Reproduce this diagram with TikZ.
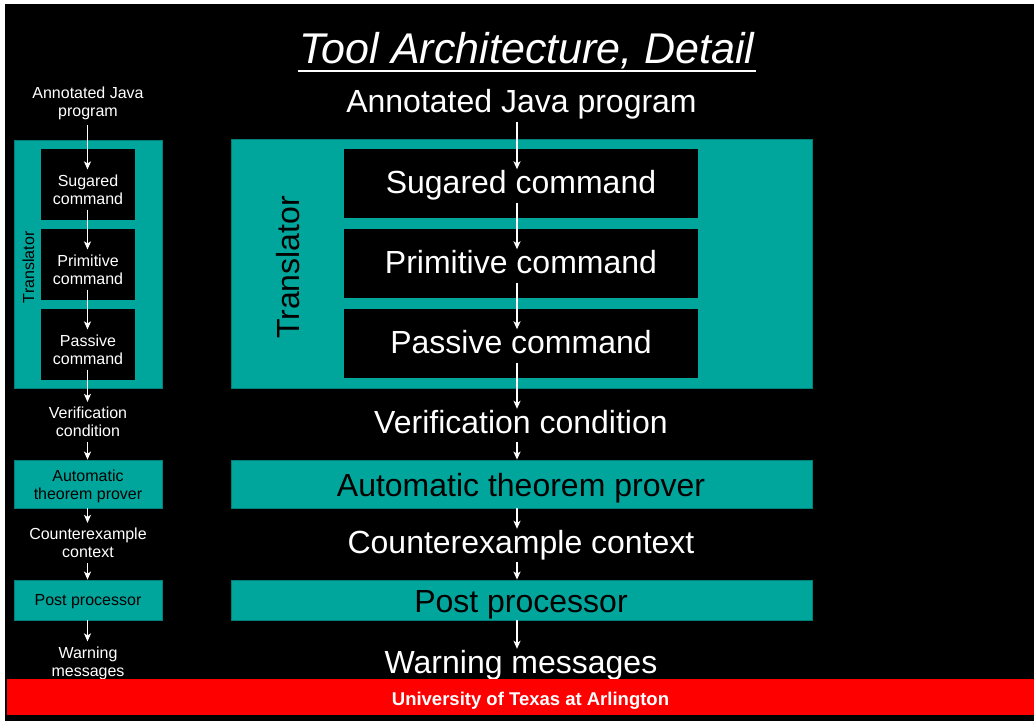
\documentclass[tikz,border=0pt]{standalone}
\usepackage{fontspec}
\setmainfont{Liberation Sans}
\usetikzlibrary{arrows.meta}
\definecolor{Teal}{RGB}{0,166,156}
\definecolor{TealEdge}{RGB}{0,128,120}
\definecolor{Banner}{RGB}{255,0,0}

\tikzset{
  stage/.style={fill=Teal, draw=TealEdge, line width=0.8pt, inner sep=0pt},
  slot/.style={fill=black, inner sep=0pt},
  bigtxt/.style={text=white, font=\fontsize{32}{36}\selectfont, anchor=base,
    text height=23pt, text depth=8pt, inner xsep=0pt, inner ysep=1pt},
  smalltxt/.style={text=white, font=\fontsize{16}{18}\selectfont, align=center,
    inner xsep=0pt, inner ysep=5pt},
  flow/.style={draw=white, line width=1.5pt, -{Stealth[length=8pt,width=7pt,inset=2pt]}},
}

\begin{document}
\begin{tikzpicture}[x=1pt,y=-1pt]
  \useasboundingbox (0,0) rectangle (1034,721);
  \fill[white] (0,0) rectangle (1034,721);
  \fill[black] (5,4) rectangle (1034,721);

  % heading
  \node[text=white, font=\fontsize{43}{48}\selectfont\itshape, anchor=base, inner sep=1pt] (title) at (527,63) {Tool Architecture, Detail};
  \draw[white, line width=2pt] ([yshift=-8pt]title.base west) -- ([yshift=-8pt]title.base east);

  % small pipeline on the left
  \coordinate (lArr) at (87.5,0);
  \node[stage, minimum width=148pt, minimum height=248pt] (lTrans) at (88,264) {};
  \node[slot, minimum width=94pt, minimum height=71pt] (lSugBox) at (88,184.5) {};
  \node[slot, minimum width=94pt, minimum height=71pt] (lPrimBox) at (88,264.5) {};
  \node[slot, minimum width=94pt, minimum height=71pt] (lPassBox) at (88,344.5) {};
  \node[rotate=90, font=\fontsize{16}{18}\selectfont, inner sep=0pt] (lTransLbl) at (28.5,267.3) {Translator};
  \node[stage, minimum width=148pt, minimum height=48pt] (lAtpBox) at (88,484) {};
  \node[stage, minimum width=148pt, minimum height=40pt] (lPostBox) at (88,600) {};

  \node[smalltxt] (lAnnot) at (88,103) {Annotated Java\\program};
  \node[smalltxt] (lSug) at (88,189.5) {Sugared\\command};
  \node[smalltxt] (lPrim) at (88,269.5) {Primitive\\command};
  \node[smalltxt] (lPass) at (88,349.5) {Passive\\command};
  \node[smalltxt] (lVer) at (88,422) {Verification\\condition};
  \node[smalltxt, text=black] (lAtp) at (88,486.5) {Automatic\\theorem prover};
  \node[smalltxt] (lCex) at (88,543) {Counterexample\\context};
  \node[smalltxt, text=black] (lPost) at (88,602) {Post processor};
  \node[smalltxt] (lWarn) at (88,663) {Warning\\messages};

  \draw[flow] (lAnnot.south -| lArr) -- (lSug.north -| lArr);
  \draw[flow] (lSug.south -| lArr) -- (lPrim.north -| lArr);
  \draw[flow] (lPrim.south -| lArr) -- (lPass.north -| lArr);
  \draw[flow] (lPass.south -| lArr) -- (lVer.north -| lArr);
  \draw[flow] (lVer.south -| lArr) -- (lAtpBox.north -| lArr);
  \draw[flow] (lAtpBox.south -| lArr) -- (lCex.north -| lArr);
  \draw[flow] (lCex.south -| lArr) -- (lPostBox.north -| lArr);
  \draw[flow] (lPostBox.south -| lArr) -- (lWarn.north -| lArr);

  % large pipeline
  \coordinate (rArr) at (517,0);
  \node[stage, minimum width=581pt, minimum height=249pt] (rTrans) at (521.5,263.5) {};
  \node[slot, minimum width=354pt, minimum height=69pt] (rSugBox) at (521,183.5) {};
  \node[slot, minimum width=354pt, minimum height=69pt] (rPrimBox) at (521,263.5) {};
  \node[slot, minimum width=354pt, minimum height=69pt] (rPassBox) at (521,343.5) {};
  \node[rotate=90, font=\fontsize{32}{36}\selectfont, inner sep=0pt] (rTransLbl) at (288,267.5) {Translator};
  \node[stage, minimum width=581pt, minimum height=48pt] (rAtpBox) at (521.5,484) {};
  \node[stage, minimum width=581pt, minimum height=40pt] (rPostBox) at (521.5,600) {};

  \node[bigtxt] (rAnnot) at (521.5,112.5) {Annotated Java program};
  \node[bigtxt] (rSug) at (521,193.5) {Sugared command};
  \node[bigtxt] (rPrim) at (521,273.5) {Primitive command};
  \node[bigtxt] (rPass) at (521,353.5) {Passive command};
  \node[bigtxt] (rVer) at (521,433) {Verification condition};
  \node[bigtxt, text=black] (rAtp) at (521,496) {Automatic theorem prover};
  \node[bigtxt] (rCex) at (521,553) {Counterexample context};
  \node[bigtxt, text=black] (rPost) at (521,612) {Post processor};
  \node[bigtxt] (rWarn) at (521,673) {Warning messages};

  \draw[flow] (rAnnot.south -| rArr) -- (rSug.north -| rArr);
  \draw[flow] (rSug.south -| rArr) -- (rPrim.north -| rArr);
  \draw[flow] (rPrim.south -| rArr) -- (rPass.north -| rArr);
  \draw[flow] (rPass.south -| rArr) -- (rVer.north -| rArr);
  \draw[flow] (rVer.south -| rArr) -- (rAtpBox.north -| rArr);
  \draw[flow] (rAtpBox.south -| rArr) -- (rCex.north -| rArr);
  \draw[flow] (rCex.south -| rArr) -- (rPostBox.north -| rArr);
  \draw[flow] (rPostBox.south -| rArr) -- (rWarn.north -| rArr);

  % footer
  \node[fill=Banner, minimum width=1027pt, minimum height=36pt, inner sep=0pt] (footer) at (520.5,697) {};
  \node[text=white, font=\fontsize{18.5}{22}\selectfont\bfseries, anchor=base, inner sep=0pt] (uta) at (530.5,705) {University of Texas at Arlington};
\end{tikzpicture}
\end{document}
